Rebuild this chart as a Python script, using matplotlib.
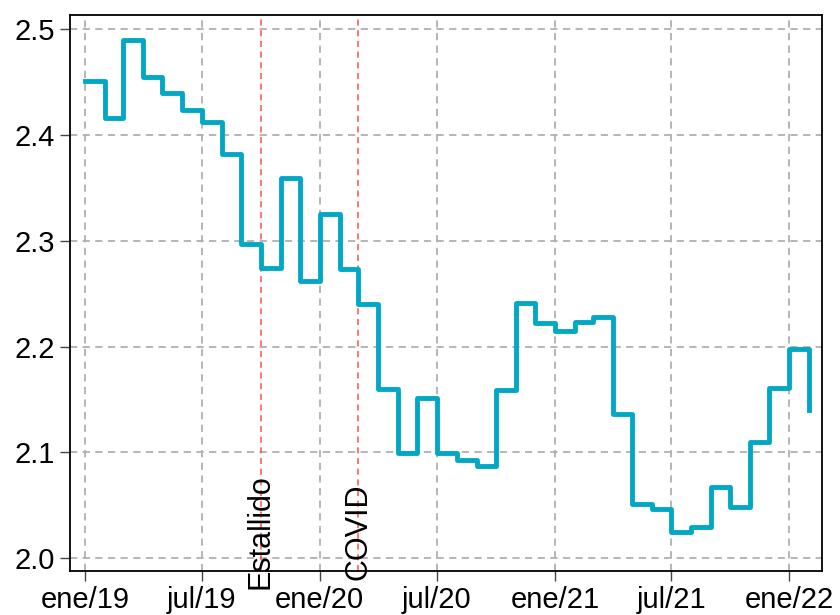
import numpy as np
import pandas as pd
import matplotlib
matplotlib.use("Agg")
import matplotlib.pyplot as plt
import matplotlib.dates as mdates

plt.rcParams['font.family'] = ['Liberation Sans', 'DejaVu Sans']

# Serie mensual (ene/19 - feb/22)
fechas = pd.date_range("2019-01-01", "2022-02-01", freq="MS")
valores = [2.451, 2.416, 2.490, 2.455, 2.440, 2.424, 2.412, 2.382, 2.297, 2.274, 2.359, 2.262,
           2.325, 2.273, 2.240, 2.160, 2.099, 2.151, 2.099, 2.093, 2.087, 2.159, 2.241, 2.222,
           2.215, 2.223, 2.228, 2.136, 2.051, 2.046, 2.025, 2.029, 2.067, 2.048, 2.110, 2.161,
           2.198, 2.140]

# Eventos
eventos = ["Estallido", "COVID"]
fechas_eventos = pd.to_datetime(["2019-10-01", "2020-03-01"])

# Ticks
ticks_x = pd.to_datetime(["2019-01-01", "2019-07-01", "2020-01-01", "2020-07-01",
                          "2021-01-01", "2021-07-01", "2022-01-01"])
etiquetas_x = ["ene/19", "jul/19", "ene/20", "jul/20", "ene/21", "jul/21", "ene/22"]
ticks_y = [2.0, 2.1, 2.2, 2.3, 2.4, 2.5]

fig = plt.figure(figsize=(8.4, 6.15), dpi=100)
ax = fig.add_axes([0.0833, 0.0715, 0.8953, 0.9041])

ax.step(fechas, valores, where="post", color="#00a8c6", linewidth=3.5, zorder=3)

for nombre, f in zip(eventos, fechas_eventos):
    ax.axvline(f, color="#ff3b3b", linestyle=(0, (4, 3)), linewidth=1.1, alpha=0.9, zorder=2)
    ax.text(f, min(valores), nombre, rotation=90, ha="center", va="center",
            fontsize=22, color="black", zorder=4)

ax.set_xticks(ticks_x)
ax.set_xticklabels(etiquetas_x)
ax.set_yticks(ticks_y)
ax.set_yticklabels([f"{v:.1f}" for v in ticks_y])

ax.set_xlim(pd.Timestamp("2018-12-08"), pd.Timestamp("2022-02-21"))
ax.set_ylim(1.9877, 2.5135)

ax.grid(True, color="#b0b0b0", linestyle=(0, (4, 3)), linewidth=1.3)
ax.set_axisbelow(True)

ax.tick_params(axis="both", labelsize=21, length=7, width=1, color="#444444", pad=4)
for s in ax.spines.values():
    s.set_linewidth(1.3)
    s.set_color("black")

fig.savefig("out.png", dpi=100)
